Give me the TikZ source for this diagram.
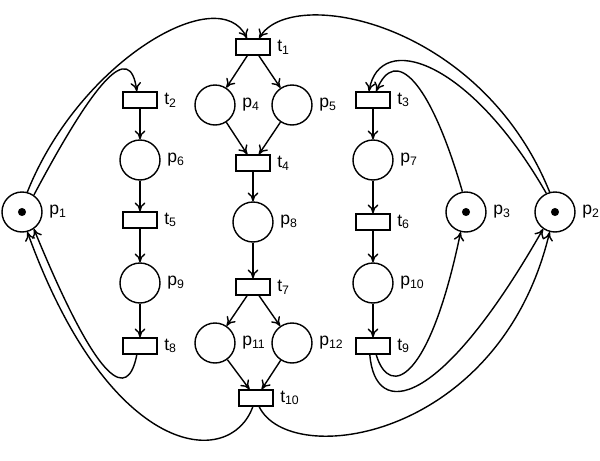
\documentclass[tikz,border=0pt]{standalone}
\usepackage{fontspec}
\setmainfont{Liberation Sans}
\usetikzlibrary{arrows.meta}

\begin{document}
\begin{tikzpicture}[x=0.02cm, y=-0.02cm, >={To[length=5pt,width=6pt]}, thick,
    place/.style={draw, circle, minimum size=0.8cm, inner sep=0pt},
    trans/.style={draw, rectangle, minimum width=0.68cm, minimum height=0.32cm, inner sep=0pt},
    lbl/.style={right, font=\normalsize}]
        \useasboundingbox (0,0) rectangle (600,461);
        % places
        \node[place] (p1) at (22,212) {};
        \node[place] (p2) at (555,212) {};
        \node[place] (p3) at (466,212) {};
        \node[place] (p4) at (215,105) {};
        \node[place] (p5) at (292,105) {};
        \node[place] (p6) at (140,160) {};
        \node[place] (p7) at (373,160) {};
        \node[place] (p8) at (253,222) {};
        \node[place] (p9) at (140,283) {};
        \node[place] (p10) at (373,283) {};
        \node[place] (p11) at (215,343) {};
        \node[place] (p12) at (292,343) {};
        \foreach \p in {p1,p2,p3} \fill (\p) circle (2.3pt);
        % transitions
        \node[trans] (t1) at (253,47) {};
        \node[trans] (t2) at (140,100) {};
        \node[trans] (t3) at (373,100) {};
        \node[trans] (t4) at (253,163) {};
        \node[trans] (t5) at (140,220) {};
        \node[trans] (t6) at (373,222) {};
        \node[trans] (t7) at (253,287) {};
        \node[trans] (t8) at (140,346) {};
        \node[trans] (t9) at (373,346) {};
        \node[trans] (t10) at (256,398) {};
        % labels
        \foreach \n/\i in {p1/1,p2/2,p3/3,p4/4,p5/5,p6/6,p7/7,p8/8,p9/9,p10/10,p11/11,p12/12}
            \node[lbl] at (\n.east) {p\textsubscript{\i}};
        \foreach \n/\i in {t1/1,t2/2,t3/3,t4/4,t5/5,t6/6,t7/7,t8/8,t9/9,t10/10}
            \node[lbl] at (\n.east) {t\textsubscript{\i}};
        % straight arcs
        \draw[->] (t1) -- (p4);
        \draw[->] (t1) -- (p5);
        \draw[->] (p4) -- (t4);
        \draw[->] (p5) -- (t4);
        \draw[->] (t4) -- (p8);
        \draw[->] (p8) -- (t7);
        \draw[->] (t7) -- (p11);
        \draw[->] (t7) -- (p12);
        \draw[->] (p11) -- (t10);
        \draw[->] (p12) -- (t10);
        \draw[->] (t2) -- (p6);
        \draw[->] (p6) -- (t5);
        \draw[->] (t5) -- (p9);
        \draw[->] (p9) -- (t8);
        \draw[->] (t3) -- (p7);
        \draw[->] (p7) -- (t6);
        \draw[->] (t6) -- (p10);
        \draw[->] (p10) -- (t9);
        % curved arcs, left side
        \draw[->] (p1.75) .. controls (80,60) and (220,-20) .. (t1.125);
        \draw[->] (p1.55) .. controls (95,80) and (130,40) .. (t2.110);
        \draw[->] (t8.250) .. controls (128,400) and (100,390) .. (p1.-55);
        \draw[->] (t10.250) .. controls (230,470) and (110,460) .. (p1.-75);
        % curved arcs, right side
        \draw[->] (p2.105) .. controls (480,20) and (290,-15) .. (t1.55);
        \draw[->] (p2.115) .. controls (470,60) and (380,30) .. (t3.115);
        \draw[->] (p3.100) .. controls (430,80) and (395,45) .. (t3.70);
        \draw[->] (t9.-70) .. controls (390,400) and (430,380) .. (p3.-105);
        \draw[->] (t9.-110) .. controls (375,420) and (440,410) .. (p2.-125);
        \draw[->] (t10.-70) .. controls (290,470) and (500,440) .. (p2.-105);
\end{tikzpicture}
\end{document}
